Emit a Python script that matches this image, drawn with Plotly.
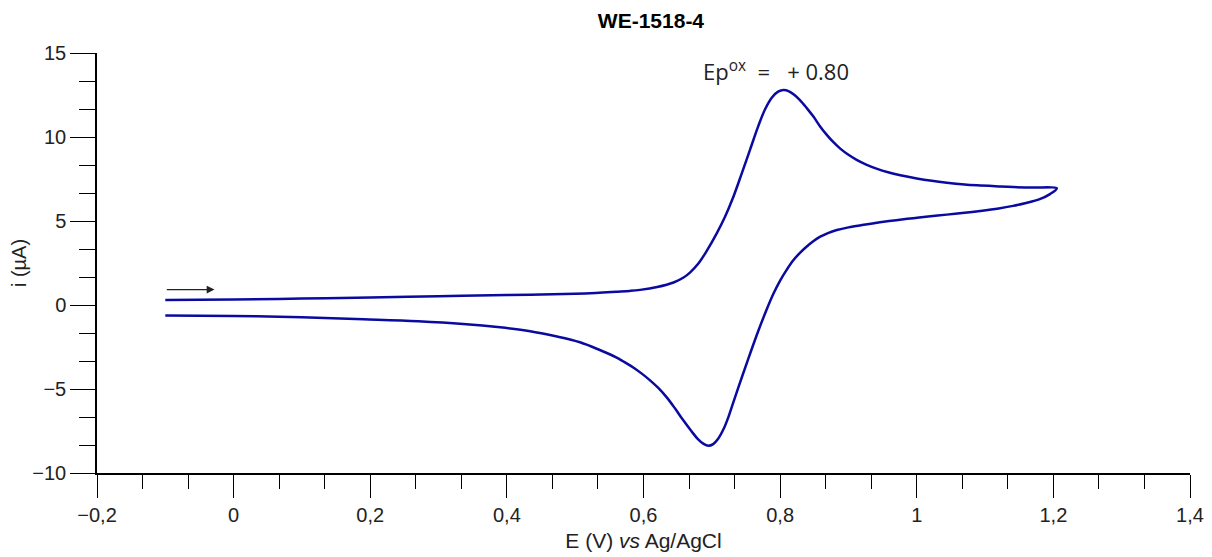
import plotly.graph_objects as go

# Forward (anodic) scan
fwd_E = [-0.1, 0.0, 0.1, 0.2, 0.3, 0.4, 0.45, 0.5, 0.53, 0.56, 0.58, 0.595, 0.62, 0.644,
         0.658, 0.668, 0.68, 0.693, 0.707, 0.719, 0.731, 0.744, 0.756, 0.768, 0.778, 0.788,
         0.797, 0.805, 0.813, 0.821, 0.829, 0.839, 0.849, 0.858, 0.868, 0.878, 0.888, 0.9,
         0.912, 0.926, 0.941, 0.958, 0.976, 1.0, 1.022, 1.044, 1.07, 1.093, 1.12, 1.141,
         1.17, 1.205]
fwd_i = [0.30, 0.32, 0.38, 0.44, 0.52, 0.59, 0.62, 0.67, 0.72, 0.79, 0.84, 0.9, 1.07, 1.34,
         1.62, 1.93, 2.45, 3.25, 4.25, 5.22, 6.38, 7.85, 9.25, 10.65, 11.65, 12.35,
         12.7, 12.8, 12.72, 12.5, 12.2, 11.72, 11.2, 10.66, 10.14, 9.69, 9.31, 8.94,
         8.64, 8.36, 8.12, 7.9, 7.72, 7.53, 7.39, 7.28, 7.18, 7.12, 7.06, 7.02,
         6.99, 6.95]
# Reverse (cathodic) scan
rev_E = [1.195, 1.18, 1.16, 1.141, 1.12, 1.093, 1.07, 1.044, 1.02, 0.995, 0.97, 0.946, 0.92,
         0.9, 0.883, 0.87, 0.858, 0.848, 0.839, 0.829, 0.819, 0.81, 0.8, 0.79, 0.78, 0.768,
         0.756, 0.744, 0.731, 0.724, 0.717, 0.709, 0.702, 0.695, 0.688, 0.68, 0.67,
         0.658, 0.646, 0.634, 0.622, 0.61, 0.598, 0.585, 0.57, 0.56, 0.536, 0.507, 0.47,
         0.434, 0.39, 0.336, 0.27, 0.19, 0.1, 0.0, -0.1]
rev_i = [6.6, 6.3, 6.07, 5.9, 5.75, 5.6, 5.49, 5.38, 5.28, 5.17, 5.05, 4.92, 4.76,
         4.62, 4.46, 4.28, 4.05, 3.78, 3.48, 3.1, 2.65, 2.12, 1.45, 0.65, -0.3, -1.55,
         -2.9, -4.3, -5.85, -6.7, -7.4, -7.98, -8.28, -8.38, -8.27, -8.0, -7.5,
         -6.85, -6.15, -5.5, -4.95, -4.5, -4.1, -3.72, -3.35, -3.12, -2.68, -2.22, -1.85,
         -1.56, -1.33, -1.13, -0.97, -0.85, -0.73, -0.65, -0.62]

E = fwd_E + rev_E
i = fwd_i + rev_i

title_text = "WE-1518-4"
x_title = "E (V) <i>vs</i> Ag/AgCl"
y_title = "i (µA)"
peak_label = "Ep<sup>ox</sup>\u00a0\u00a0=\u00a0\u00a0\u00a0+\u00a00.80"
peak_pos = (0.794, 13.98)
arrow_start = (-0.1, 0.92)
arrow_end = (-0.028, 0.92)

fig = go.Figure()
fig.add_trace(go.Scatter(x=E, y=i, mode="lines",
                         line=dict(color="#0a0aa0", width=2.5, shape="spline", smoothing=1.0),
                         showlegend=False, hoverinfo="skip"))

axis_font = dict(family="Liberation Sans, Arial, sans-serif", size=20, color="#222")

fig.update_layout(
    width=1212, height=557,
    paper_bgcolor="white", plot_bgcolor="white",
    margin=dict(l=89, r=30, t=45, b=92),
    separators=",.",
    font=axis_font,
    title=dict(text="<b>" + title_text + "</b>", x=0.5305, xanchor="center", y=0.977, yanchor="middle",
               font=dict(family="Liberation Sans, Arial, sans-serif", size=21, color="black")),
    xaxis=dict(range=[-0.2, 1.4], dtick=0.2, tick0=-0.2, showgrid=False, zeroline=False,
               automargin=False,
               showline=True, linecolor="black", linewidth=1.5,
               ticks="outside", ticklen=23, tickwidth=1.3, tickcolor="black",
               minor=dict(ticks="outside", ticklen=14, tickwidth=1.3, tickcolor="black",
                          dtick=0.2 / 3, tick0=-0.2, showgrid=False),
               title=dict(text=x_title, standoff=9, font=dict(family="Liberation Sans, Arial, sans-serif", size=21, color="#222"))),
    yaxis=dict(range=[-10, 15], dtick=5, tick0=-10, showgrid=False, zeroline=False,
               automargin=False,
               showline=True, linecolor="black", linewidth=1.5,
               ticks="outside", ticklen=25, tickwidth=1.3, tickcolor="black",
               minor=dict(ticks="outside", ticklen=16, tickwidth=1.3, tickcolor="black",
                          dtick=5 / 3, tick0=-10, showgrid=False),
               title=dict(text=y_title, standoff=2, font=dict(family="Liberation Sans, Arial, sans-serif", size=20, color="#222"))),
)

fig.add_annotation(x=peak_pos[0], y=peak_pos[1], xref="x", yref="y", text=peak_label,
                   showarrow=False, font=dict(family="Open Sans, sans-serif", size=22, color="#222"))
fig.add_annotation(x=arrow_end[0], y=arrow_end[1], ax=arrow_start[0], ay=arrow_start[1],
                   xref="x", yref="y", axref="x", ayref="y", text="", showarrow=True,
                   arrowhead=2, arrowsize=1.2, arrowwidth=1.3, arrowcolor="#222")

fig.write_html("out.html")
